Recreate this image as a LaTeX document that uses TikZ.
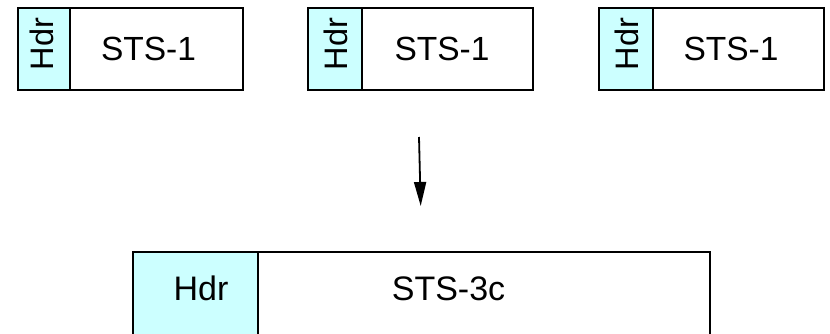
\documentclass[tikz,border=0pt]{standalone}
\usepackage{fontspec}
\setmainfont{Liberation Sans}
\usetikzlibrary{arrows.meta}
\definecolor{hdrcyan}{HTML}{CCFFFF}
\begin{document}
\begin{tikzpicture}[x=1pt,y=-1pt,
  cell/.style={draw=black,line width=2pt,inner sep=0pt,outer sep=0pt,anchor=north west},
  hdrcell/.style={cell,fill=hdrcyan},
  bodycell/.style={cell,fill=white},
  lbl/.style={inner sep=0pt,anchor=base,font=\fontsize{33.5}{40}\selectfont},
  biglbl/.style={inner sep=0pt,anchor=base,font=\fontsize{34}{40}\selectfont},
  vlbl/.style={inner sep=0pt,anchor=base,rotate=90,font=\fontsize{32.5}{40}\selectfont}]
\useasboundingbox (0,0) rectangle (830,333);
\clip (0,0) rectangle (830,333);
% top frames
\node[hdrcell,minimum width=52pt,minimum height=82pt] (h1) at (18,8) {};
\node[bodycell,minimum width=173pt,minimum height=82pt] (b1) at (70,8) {};
\node[hdrcell,minimum width=54pt,minimum height=82pt] (h2) at (308,8) {};
\node[bodycell,minimum width=171pt,minimum height=82pt] (b2) at (362,8) {};
\node[hdrcell,minimum width=54pt,minimum height=82pt] (h3) at (599,8) {};
\node[bodycell,minimum width=171pt,minimum height=82pt] (b3) at (653,8) {};
\node[vlbl] (t1h) at (53,44) {Hdr};
\node[vlbl] (t2h) at (347.5,44) {Hdr};
\node[vlbl] (t3h) at (638,44) {Hdr};
\node[lbl] (t1) at (148.5,60) {STS-1};
\node[lbl] (t2) at (442,60) {STS-1};
\node[lbl] (t3) at (731,60) {STS-1};
% concatenated frame
\node[hdrcell,minimum width=125pt,minimum height=110pt] (h4) at (133,252) {};
\node[bodycell,minimum width=452pt,minimum height=110pt] (b4) at (258,252) {};
\node[biglbl] (t4h) at (201,300) {Hdr};
\node[biglbl] (t4) at (448.5,300) {STS-3c};
% arrow
\coordinate (as) at (419,137);
\coordinate (ae) at (420.7,206);
\draw[line width=1.8pt,-{Triangle[length=24pt,width=12pt]}] (as) -- (ae);
\end{tikzpicture}
\end{document}
